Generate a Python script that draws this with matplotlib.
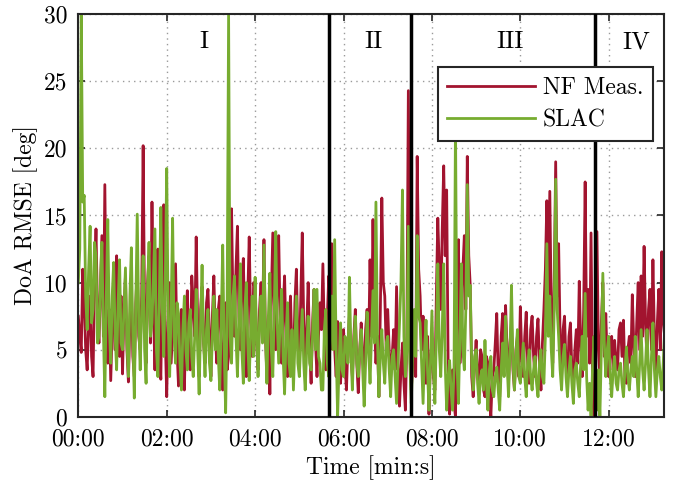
import numpy as np
import matplotlib.pyplot as plt

plt.rcParams['font.family'] = ['cmr10', 'DejaVu Serif']
plt.rcParams['mathtext.fontset'] = 'cm'
plt.rcParams['axes.unicode_minus'] = False

# sample spacing [s]
dt = 2

# DoA RMSE [deg], one row per minute (30 samples / min)
nf_meas = [
    7.5, 6.0, 4.8, 11.0, 8.5, 5.0, 3.5, 7.0, 9.0, 4.5, 3.0, 10.0, 14.0, 8.0, 5.5, 9.5, 13.5, 6.0, 17.3, 7.0, 4.0, 8.0, 2.7, 6.5, 10.5, 5.0, 12.0, 7.5, 4.5, 9.0,
    3.2, 8.0, 10.5, 5.0, 2.6, 7.0, 9.5, 4.5, 3.0, 8.5, 11.0, 6.0, 5.0, 9.0, 20.2, 7.5, 4.0, 10.0, 12.0, 5.5, 16.0, 8.0, 3.5, 9.0, 12.5, 5.0, 2.8, 11.0, 15.8, 6.0,
    1.5, 7.0, 10.0, 4.0, 6.5, 9.0, 11.4, 5.0, 2.3, 6.0, 8.0, 4.5, 2.0, 7.5, 9.4, 5.0, 3.5, 10.5, 8.5, 6.0, 13.4, 7.0, 3.0, 8.0, 9.7, 5.5, 4.0, 8.5, 9.5, 6.0,
    3.0, 7.5, 10.5, 6.0, 4.0, 8.0, 9.0, 5.0, 2.0, 6.5, 8.5, 3.5, 4.5, 9.5, 15.5, 8.0, 6.0, 11.0, 14.2, 7.5, 5.0, 10.0, 11.8, 6.5, 3.0, 9.0, 13.4, 7.0, 4.5, 10.0,
    9.5, 5.5, 3.5, 8.0, 10.0, 7.0, 13.2, 6.0, 3.0, 7.5, 1.7, 9.0, 13.7, 8.5, 5.0, 10.0, 13.5, 7.0, 4.0, 8.0, 10.5, 5.5, 3.0, 7.0, 9.0, 5.0, 3.5, 8.5, 11.0, 6.0,
    3.5, 9.0, 13.7, 7.0, 4.0, 6.5, 10.0, 5.0, 2.5, 7.0, 9.5, 5.5, 3.0, 6.0, 8.5, 6.5, 11.4, 6.0, 3.5, 7.5, 10.5, 5.0, 12.9, 8.0, 5.0, 3.0, 7.1, 4.5, 2.5, 5.5,
    6.5, 4.0, 2.0, 5.5, 7.5, 4.5, 3.0, 6.0, 8.0, 4.0, 1.8, 5.0, 7.0, 4.5, 3.0, 6.5, 8.0, 5.0, 11.7, 6.0, 14.7, 7.0, 4.0, 6.0, 1.5, 8.0, 16.3, 10.0, 9.0, 5.0,
    8.0, 5.0, 3.0, 4.5, 6.5, 3.5, 9.7, 4.0, 0.8, 3.5, 5.5, 2.5, 0.5, 6.0, 24.3, 5.0, 2.0, 4.0, 6.5, 3.0, 19.4, 11.0, 9.0, 5.0, 7.5, 4.0, 2.5, 6.0, 0.2, 4.5,
    5.5, 3.0, 2.0, 9.0, 14.8, 11.0, 8.0, 14.0, 18.7, 12.0, 16.9, 4.0, 0.2, 2.5, 3.5, 1.0, 0.0, 8.0, 13.2, 4.0, 6.0, 11.0, 13.5, 8.0, 19.4, 12.0, 9.8, 3.0, 1.5, 4.0,
    5.7, 3.0, 2.5, 5.0, 4.5, 2.0, 1.5, 4.5, 4.0, 1.5, 0.0, 3.0, 3.5, 5.5, 7.7, 3.0, 1.5, 6.0, 7.7, 4.0, 8.3, 5.0, 2.5, 5.5, 7.0, 3.5, 2.0, 5.0, 6.0, 3.0,
    8.2, 4.5, 3.0, 6.0, 7.8, 4.0, 2.5, 6.5, 7.5, 4.5, 3.0, 6.0, 7.3, 4.0, 2.0, 5.5, 8.0, 11.0, 16.1, 9.0, 16.8, 8.0, 4.0, 10.0, 19.0, 9.0, 12.9, 6.0, 3.0, 6.5,
    7.5, 4.0, 2.5, 6.0, 7.0, 3.5, 2.0, 5.0, 6.5, 4.0, 10.1, 5.5, 3.0, 8.0, 17.5, 6.0, 9.5, 4.0, 13.7, 3.0, 0.0, 6.0, 13.8, 5.0, 3.0, 7.0, 10.0, 4.5, 7.7, 4.0,
    3.0, 5.0, 6.0, 3.5, 5.7, 4.0, 3.5, 6.5, 7.0, 4.5, 7.2, 3.0, 2.5, 5.0, 6.0, 4.0, 9.1, 5.5, 3.0, 7.0, 10.0, 5.0, 10.5, 6.0, 12.7, 7.0, 4.0, 8.0, 9.5, 5.0,
    11.7, 6.0, 3.5, 7.0, 9.5, 5.0, 12.3, 7.0, 6.0,
]
slac = [
    10.0, 12.5, 30.0, 16.0, 16.5, 9.0, 6.5, 11.0, 14.2, 7.0, 8.0, 13.0, 12.0, 5.5, 6.0, 10.0, 13.0, 6.5, 1.5, 9.0, 14.7, 7.0, 4.0, 9.0, 11.5, 6.0, 3.5, 8.5, 11.7, 5.5,
    5.0, 8.0, 11.1, 5.5, 3.0, 9.0, 12.6, 6.0, 1.4, 8.5, 15.1, 7.0, 3.5, 8.0, 12.0, 5.0, 2.5, 9.5, 13.0, 6.0, 7.0, 10.5, 14.0, 5.0, 3.0, 9.0, 15.6, 8.0, 4.5, 10.0,
    18.5, 7.0, 3.0, 8.0, 14.8, 6.0, 4.0, 8.5, 7.7, 4.0, 2.0, 6.5, 9.0, 5.0, 3.5, 7.0, 8.0, 4.5, 3.0, 6.0, 9.5, 5.0, 1.7, 7.0, 11.3, 5.5, 3.0, 6.5, 8.0, 4.0,
    2.7, 6.0, 9.0, 5.0, 8.0, 4.5, 2.0, 7.0, 12.8, 5.0, 0.3, 8.0, 30.0, 6.0, 4.0, 9.0, 10.5, 6.0, 3.0, 7.5, 11.4, 5.0, 2.5, 8.0, 10.0, 5.5, 2.7, 6.5, 9.0, 4.5,
    10.4, 6.0, 3.0, 7.0, 9.0, 5.5, 12.8, 6.0, 2.5, 7.5, 10.7, 5.0, 3.0, 8.0, 13.8, 7.0, 4.0, 7.0, 9.5, 4.5, 1.7, 6.0, 8.5, 4.0, 3.0, 6.5, 2.0, 5.5, 9.0, 4.0,
    3.0, 5.5, 8.0, 4.0, 2.0, 5.0, 7.5, 4.0, 3.5, 6.0, 9.5, 5.0, 9.5, 4.5, 4.0, 2.0, 2.0, 6.5, 8.0, 4.0, 3.0, 6.0, 9.0, 5.0, 13.2, 5.0, 0.0, 4.0, 7.0, 3.5,
    3.0, 6.0, 5.5, 4.0, 10.4, 5.0, 2.0, 5.5, 7.5, 4.0, 3.0, 5.0, 6.5, 3.5, 0.8, 4.0, 7.8, 5.0, 2.5, 6.0, 9.4, 5.5, 16.0, 6.0, 1.5, 4.5, 6.5, 4.0, 2.5, 5.5,
    6.0, 3.5, 1.5, 4.5, 5.0, 3.0, 1.0, 4.0, 7.0, 10.0, 16.9, 6.0, 3.0, 5.0, 14.2, 4.0, 1.0, 5.0, 8.0, 4.5, 13.5, 7.5, 7.0, 4.0, 1.0, 5.0, 7.2, 3.5, 0.5, 4.0,
    7.9, 3.5, 1.0, 6.0, 11.4, 5.0, 3.0, 6.5, 11.4, 4.0, 0.5, 3.0, 4.2, 2.0, 0.5, 3.5, 22.0, 4.0, 1.0, 6.0, 11.4, 5.0, 3.5, 8.0, 17.3, 9.0, 9.8, 4.0, 2.0, 4.5,
    5.0, 2.5, 1.0, 3.0, 3.5, 2.0, 5.7, 2.5, 0.5, 3.5, 4.5, 2.0, 1.5, 3.0, 3.7, 2.0, 0.5, 3.5, 5.5, 3.0, 7.5, 4.0, 1.5, 5.0, 9.8, 4.0, 2.0, 4.5, 6.5, 3.0,
    2.5, 4.0, 5.5, 3.0, 1.5, 4.0, 5.0, 3.0, 2.0, 3.5, 4.5, 2.5, 1.5, 4.0, 5.0, 3.0, 2.5, 6.0, 12.9, 6.0, 9.0, 5.0, 3.0, 8.0, 17.7, 8.0, 6.0, 3.5, 2.0, 4.5,
    5.4, 3.0, 1.5, 3.5, 4.5, 2.5, 1.0, 3.5, 4.0, 2.5, 1.5, 4.0, 6.0, 3.5, 9.2, 3.0, 0.5, 2.5, 0.0, 3.5, 6.0, 3.0, 0.5, 3.5, 0.0, 5.0, 10.7, 5.5, 3.0, 5.0,
    6.0, 3.0, 1.5, 3.5, 4.5, 2.5, 2.0, 3.5, 4.0, 2.5, 1.5, 3.5, 5.2, 3.0, 2.0, 3.5, 4.5, 3.0, 6.0, 3.5, 1.5, 4.0, 6.5, 3.5, 2.0, 4.0, 6.5, 3.5, 1.5, 4.5,
    7.0, 3.5, 1.5, 3.5, 4.5, 3.0, 2.0, 4.0, 6.5,
]

# scenario boundaries [s] and scenario names
bounds = [340, 452, 701]
phases = ['I', 'II', 'III', 'IV']
phase_x = [171, 400, 586, 757]

tick_pos = [0, 120, 240, 360, 480, 600, 720]
tick_lbl = ['00:00', '02:00', '04:00', '06:00', '08:00', '10:00', '12:00']

t = np.arange(len(nf_meas)) * dt

red = '#A2142F'
green = '#77AC30'

fig = plt.figure(figsize=(6.81, 4.87), dpi=100)
ax = fig.add_axes([0.115, 0.144, 0.860, 0.827])

ax.plot(t, nf_meas, color=red, lw=2.0, label='NF Meas.')
ax.plot(t, slac, color=green, lw=2.0, label='SLAC')

for b in bounds:
    ax.axvline(b, color='black', lw=2.5, zorder=3)
for name, x in zip(phases, phase_x):
    ax.text(x, 27.9, name, fontsize=18, ha='center', va='center')

ax.set_xlim(0, 795)
ax.set_ylim(0, 30)
ax.set_xticks(tick_pos)
ax.set_xticklabels(tick_lbl)
ax.set_yticks(range(0, 31, 5))
ax.tick_params(direction='in', top=True, right=True, labelsize=17,
               length=5, width=1.2, color='#262626')
ax.tick_params(axis='x', pad=8)
ax.tick_params(axis='y', pad=8)
ax.grid(True, linestyle=(0, (1, 3)), color='#9a9a9a', lw=1)
for s in ax.spines.values():
    s.set_linewidth(1.5)
    s.set_color('#262626')

ax.set_xlabel('Time [min:s]', fontsize=17)
ax.set_ylabel('DoA RMSE [deg]', fontsize=17)

leg = ax.legend(loc='upper right', bbox_to_anchor=(0.981, 0.868),
                borderaxespad=0, fontsize=17, handlelength=3.7,
                handletextpad=0.35, labelspacing=0.45, fancybox=False,
                framealpha=1, edgecolor='#262626')
leg.get_frame().set_linewidth(1.5)
leg.set_zorder(5)

fig.savefig('out.png', dpi=100)
